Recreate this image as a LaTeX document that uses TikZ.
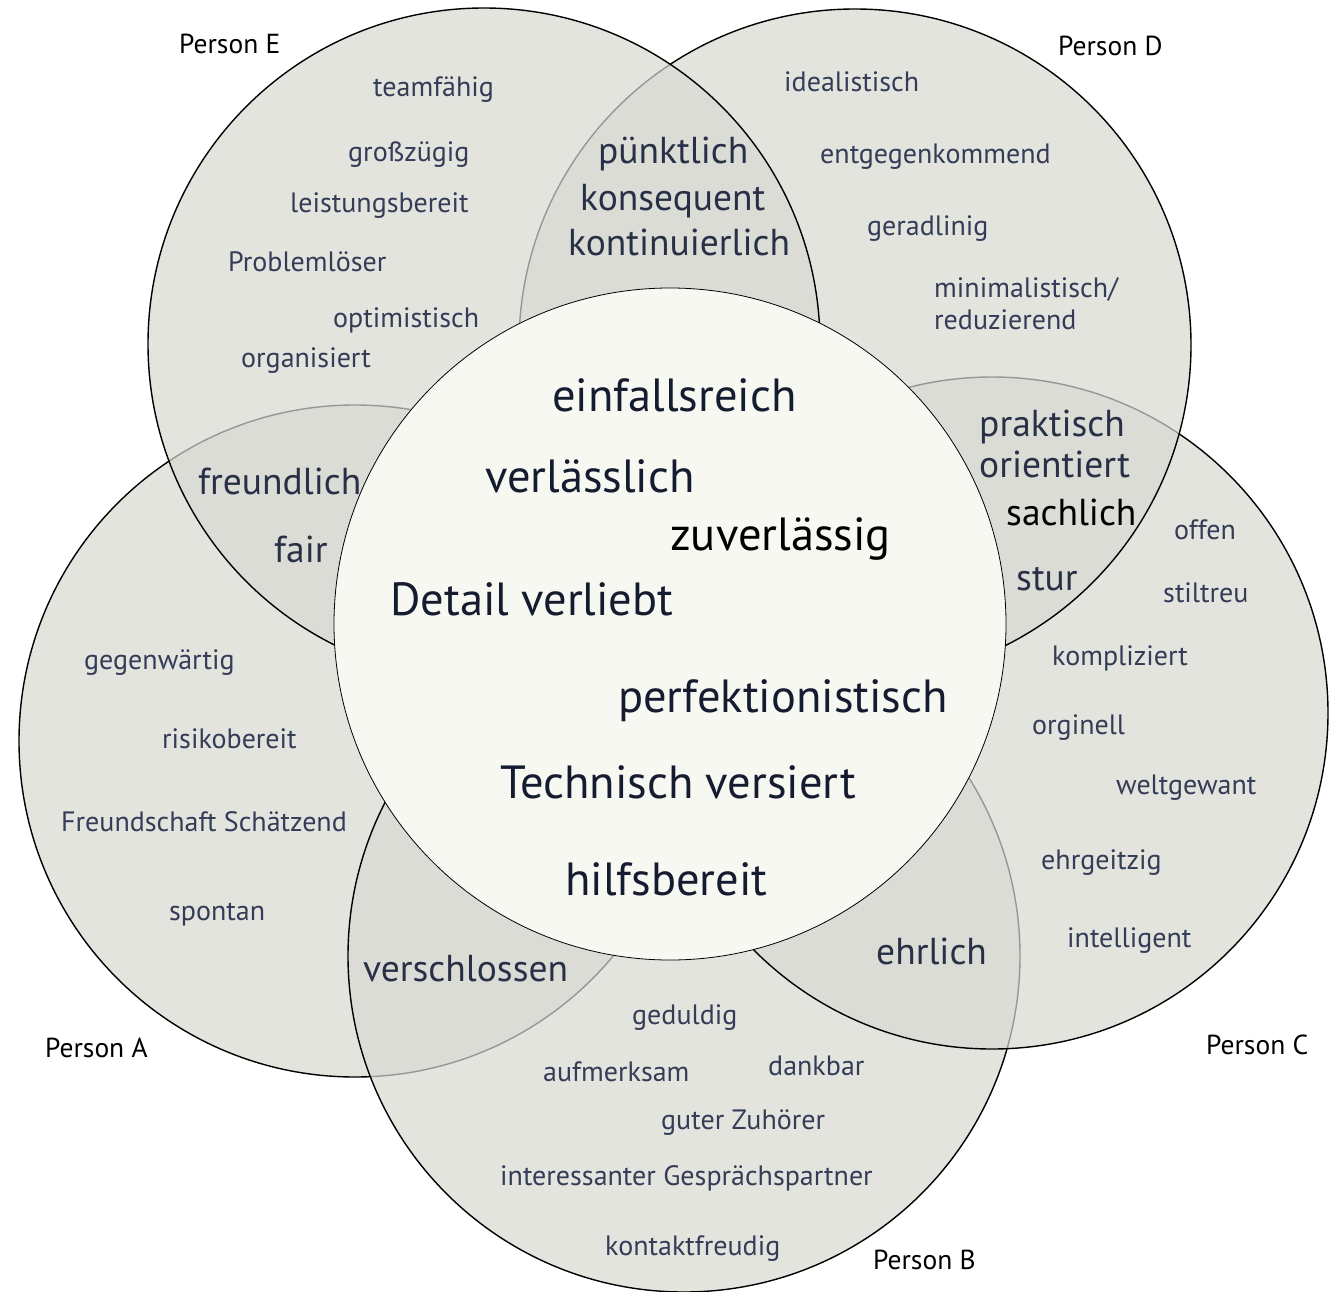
\documentclass[tikz,border=0pt]{standalone}
\usepackage{fontspec}
\setmainfont{PT Sans}
\definecolor{cgray}{RGB}{216,216,210}
\definecolor{ccenter}{RGB}{248,248,243}
\definecolor{cnavy}{RGB}{52,60,86}
\definecolor{cmid}{RGB}{40,48,70}
\definecolor{cdark}{RGB}{22,28,48}
\tikzset{
  pc/.style={circle, minimum size=672pt, inner sep=0pt, fill=cgray, fill opacity=0.7, draw=black, line width=1.4pt},
  pcenter/.style={circle, minimum size=672pt, inner sep=0pt, fill=ccenter, draw=black, line width=0.8pt},
  sm/.style={anchor=base west, inner sep=0pt, text=cnavy, font=\fontsize{28}{30}\selectfont},
  md/.style={anchor=base west, inner sep=0pt, text=cmid, font=\fontsize{37.5}{40}\selectfont},
  lg/.style={anchor=base west, inner sep=0pt, text=cdark, font=\fontsize{46.5}{50}\selectfont},
  lab/.style={anchor=base west, inner sep=0pt, text=black, font=\fontsize{27.5}{30}\selectfont}
}
\begin{document}
\begin{tikzpicture}[x=1pt,y=-1pt]
\useasboundingbox (0,0) rectangle (1338,1292);
% circles
\node[pc] (A) at (355,741) {};
\node[pc] (B) at (684,956) {};
\node[pc] (C) at (992,713) {};
\node[pc] (D) at (855,345) {};
\node[pc] (E) at (484,344) {};
\node[pcenter] (M) at (670,624) {};
% labels
\node[lab] (lE) at (179,54) {Person E};
\node[lab] (lD) at (1058,56) {Person D};
\node[lab] (lC) at (1206,1054) {Person C};
\node[lab] (lA) at (45,1057) {Person A};
\node[lab] (lB) at (873,1269) {Person B};
% Person E
\node[sm] (e1) at (373,97) {teamfähig};
\node[sm] (e2) at (348,162) {großzügig};
\node[sm] (e3) at (290,212) {leistungsbereit};
\node[sm] (e4) at (228,271) {Problemlöser};
\node[sm] (e5) at (333,327) {optimistisch};
\node[sm] (e6) at (241,367) {organisiert};
% Person D
\node[sm] (d1) at (784,92) {idealistisch};
\node[sm] (d2) at (820,164) {entgegenkommend};
\node[sm] (d3) at (867,236) {geradlinig};
\node[sm] (d4) at (934,297) {minimalistisch/};
\node[sm] (d5) at (934,329) {reduzierend};
% Person C
\node[sm] (c1) at (1174,539) {offen};
\node[sm] (c2) at (1163,602) {stiltreu};
\node[sm] (c3) at (1052,665) {kompliziert};
\node[sm] (c4) at (1032,734) {orginell};
\node[sm] (c5) at (1116,794) {weltgewant};
\node[sm] (c6) at (1041,869) {ehrgeitzig};
\node[sm] (c7) at (1067,947) {intelligent};
% Person A
\node[sm] (a1) at (84,669) {gegenwärtig};
\node[sm] (a2) at (162,748) {risikobereit};
\node[sm] (a3) at (61,831) {Freundschaft Schätzend};
\node[sm] (a4) at (169,920) {spontan};
% Person B
\node[sm] (b1) at (632,1024) {geduldig};
\node[sm] (b2) at (543,1081) {aufmerksam};
\node[sm] (b3) at (768,1075) {dankbar};
\node[sm] (b4) at (661,1129) {guter Zuhörer};
\node[sm] (b5) at (500,1185) {interessanter Gesprächspartner};
\node[sm] (b6) at (605,1255) {kontaktfreudig};
% overlaps
\node[md] (ed1) at (598,164) {pünktlich};
\node[md] (ed2) at (580,211) {konsequent};
\node[md] (ed3) at (568,255) {kontinuierlich};
\node[md] (dc1) at (979,436) {praktisch};
\node[md] (dc2) at (979,477) {orientiert};
\node[md, text=black] (dc3) at (1006,525) {sachlich};
\node[md] (dc4) at (1016,590) {stur};
\node[md] (ea1) at (198,494) {freundlich};
\node[md] (ea2) at (274,562) {fair};
\node[md] (ab1) at (363,981) {verschlossen};
\node[md] (bc1) at (876,964) {ehrlich};
% center
\node[lg] (m1) at (552,411) {einfallsreich};
\node[lg] (m2) at (485,492) {verlässlich};
\node[lg, text=black] (m3) at (670,550) {zuverlässig};
\node[lg] (m4) at (390,615) {Detail verliebt};
\node[lg] (m5) at (618,712) {perfektionistisch};
\node[lg] (m6) at (500,798) {Technisch versiert};
\node[lg] (m7) at (565,895) {hilfsbereit};
\end{tikzpicture}
\end{document}
